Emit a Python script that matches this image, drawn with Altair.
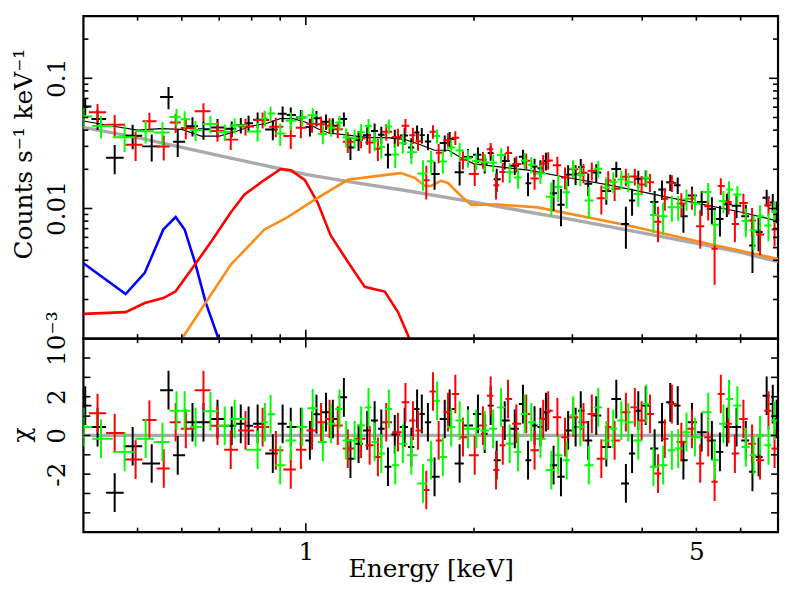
import altair as alt
import numpy as np
import pandas as pd

# ---------------- data ----------------
# black data set
E_k = [0.403,0.424,0.455,0.49,0.53,0.568,0.59,0.627,0.656,0.695,0.737,0.765,0.79,0.82,0.873,0.909,0.94,0.98,1.017,1.045,
       1.087,1.118,1.17,1.202,1.243,1.288,1.328,1.365,1.403,1.443,1.503,1.545,1.582,1.613,1.654,1.70,1.773,1.809,1.885,1.951,
       2.033,2.09,2.142,2.196,2.27,2.366,2.447,2.499,2.567,2.63,2.69,2.776,2.862,2.948,3.04,3.105,3.202,3.31,3.45,3.595,
       3.74,3.836,3.936,4.058,4.21,4.34,4.49,4.63,4.74,4.91,5.11,5.33,5.51,5.67,5.9,6.13,6.3,6.46,6.68,6.85,6.96]
Y_k = [0.0607,0.0487,0.0245,0.0362,0.030,0.0718,0.0326,0.0429,0.0406,0.0418,0.0409,0.0436,0.0452,0.048,0.0404,0.0534,0.0522,0.050,0.0423,0.0494,
       0.0464,0.0432,0.0486,0.0294,0.0335,0.0365,0.0393,0.0369,0.0259,0.0348,0.0363,0.0294,0.0384,0.0366,0.0327,0.0184,0.0318,0.0342,0.019,0.0249,
       0.0259,0.0221,0.0267,0.0168,0.0232,0.0213,0.025,0.0156,0.021,0.0204,0.0232,0.0131,0.0107,0.0182,0.0183,0.0208,0.0155,0.0189,0.0136,0.0201,
       0.0076,0.0115,0.0169,0.0171,0.0112,0.014,0.0159,0.0151,0.0087,0.0126,0.0112,0.0099,0.0083,0.0108,0.0105,0.0087,0.0052,0.0066,0.0121,0.0111,0.0095]
D_k = [0.0089,0.0086,0.0062,0.0077,0.007,0.014,0.0077,0.0072,0.0068,0.0068,0.0057,0.006,0.0063,0.0066,0.007,0.0074,0.0074,0.007,0.0066,0.0067,
       0.0062,0.0061,0.0059,0.0058,0.0058,0.0056,0.0056,0.0056,0.0056,0.0055,0.0054,0.0052,0.005,0.005,0.0047,0.0045,0.0045,0.0045,0.004,0.0037,
       0.0035,0.0035,0.0034,0.0034,0.0033,0.0032,0.0032,0.0032,0.0031,0.0031,0.0036,0.0035,0.0034,0.0033,0.0032,0.0032,0.0031,0.003,0.0029,0.0028,
       0.0027,0.0027,0.0026,0.0025,0.0024,0.0024,0.0023,0.0022,0.0022,0.0021,0.0024,0.0023,0.0022,0.0022,0.0021,0.002,0.002,0.0019,0.0018,0.0018,0.0018]
C_k = [1.54,0.43,-2.96,-0.56,-1.45,2.34,-1.03,0.68,0.68,0.85,0.5,0.6,0.5,0.6,-0.94,0.6,0.43,0.43,-0.26,1.1,
       1.2,0.85,1.97,-1.2,-0.43,0.26,0.77,0.34,-1.62,0.05,0.43,-0.6,1.37,1.11,0.68,-2.14,0.85,1.37,-1.45,0.51,
       1.11,0.09,1.54,-1.28,0.77,0.34,1.62,-1.28,0.51,0.43,1.2,-1.54,-2.14,0.26,0.43,1.28,-0.26,1.03,-0.6,1.88,
       -2.48,-0.94,1.28,1.54,-0.68,0.68,1.71,1.54,-1.28,0.68,0.17,-0.26,-0.85,0.43,0.43,-0.26,-1.88,-1.11,2.05,1.62,0.85]

# red data set
E_r = [0.424,0.455,0.496,0.525,0.557,0.585,0.61,0.656,0.695,0.734,0.78,0.837,0.884,0.94,0.98,1.026,1.065,1.103,1.141,1.189,
       1.256,1.301,1.346,1.393,1.462,1.508,1.555,1.588,1.643,1.689,1.729,1.797,1.852,1.911,2.006,2.075,2.142,2.19,2.252,2.301,
       2.381,2.48,2.567,2.66,2.715,2.82,2.91,3.01,3.14,3.25,3.38,3.477,3.57,3.74,3.88,3.99,4.13,4.27,4.39,4.52,
       4.70,4.91,5.08,5.25,5.39,5.53,5.71,5.86,6.07,6.29,6.5,6.73,6.9]
Y_r = [0.0549,0.044,0.0309,0.0467,0.0299,0.0457,0.0415,0.0559,0.0394,0.0338,0.0426,0.0479,0.0425,0.036,0.0417,0.0447,0.0444,0.0432,0.0406,0.0326,
       0.0347,0.0321,0.0288,0.0388,0.0354,0.0432,0.0365,0.0328,0.0165,0.0389,0.0268,0.0334,0.035,0.0237,0.0184,0.0237,0.0285,0.0151,0.0191,0.0267,
       0.022,0.0233,0.017,0.0221,0.0234,0.0215,0.0173,0.020,0.0188,0.0195,0.012,0.0164,0.0142,0.0175,0.0176,0.0153,0.0159,0.0079,0.0119,0.0157,
       0.0109,0.0119,0.0073,0.0104,0.0049,0.0149,0.0112,0.0076,0.011,0.0081,0.0063,0.0106,0.0069]
D_r = [0.0086,0.0082,0.0077,0.0077,0.0065,0.0077,0.0074,0.0085,0.0068,0.0057,0.0062,0.0068,0.0072,0.0074,0.0071,0.0065,0.0064,0.0061,0.006,0.0059,
       0.0057,0.0056,0.0056,0.0056,0.0055,0.0054,0.0052,0.005,0.0048,0.0046,0.0045,0.0045,0.0042,0.0038,0.0035,0.0035,0.0034,0.0034,0.0033,0.0033,
       0.0032,0.0032,0.0031,0.0036,0.0036,0.0035,0.0033,0.0032,0.0032,0.0031,0.003,0.0029,0.0028,0.0027,0.0026,0.0025,0.0025,0.0024,0.0023,0.0023,
       0.0022,0.0021,0.0024,0.0023,0.0023,0.0022,0.0022,0.0021,0.002,0.002,0.0019,0.0018,0.0018]
C_r = [1.15,0.12,-1.25,0.8,-1.71,0.68,0.34,2.34,0.5,-0.74,0.26,0.43,-0.77,-1.76,-0.74,0.26,0.68,0.85,0.51,-0.68,
       -0.17,-0.51,-1.11,0.68,0.17,1.71,0.77,0.26,-2.82,2.27,-0.26,1.2,2.14,-0.09,-1.03,0.51,2.05,-1.79,-0.51,1.88,
       0.6,1.11,-0.77,0.85,1.28,0.94,-0.09,0.94,0.68,1.11,-1.2,0.43,-0.26,1.2,1.45,0.77,1.11,-1.97,-0.17,1.62,
       -0.34,0.34,-1.45,-0.09,-2.39,2.14,0.6,-0.94,0.85,-0.43,-1.28,1.28,-0.68]

# green data set
E_g = [0.40,0.43,0.474,0.517,0.554,0.587,0.607,0.635,0.675,0.716,0.746,0.82,0.845,0.865,0.90,0.94,0.985,1.029,1.073,1.11,
       1.149,1.181,1.223,1.256,1.295,1.328,1.365,1.408,1.446,1.492,1.545,1.621,1.676,1.718,1.759,1.821,1.885,1.951,2.019,2.09,
       2.164,2.236,2.317,2.398,2.464,2.533,2.63,2.75,2.83,2.93,3.01,3.10,3.21,3.337,3.45,3.55,3.67,3.777,3.936,4.07,
       4.19,4.36,4.52,4.64,4.80,4.97,5.25,5.39,5.59,5.72,5.92,6.13,6.33,6.50,6.73,6.89]
Y_g = [0.0508,0.043,0.0352,0.0392,0.0383,0.0504,0.0485,0.040,0.0445,0.0387,0.0434,0.0391,0.0493,0.0536,0.0376,0.0471,0.050,0.052,0.0374,0.0417,
       0.0455,0.0352,0.0347,0.0386,0.0431,0.0331,0.0297,0.0427,0.026,0.0317,0.0271,0.0186,0.0231,0.036,0.023,0.0294,0.0279,0.0243,0.0232,0.0227,
       0.0225,0.0257,0.019,0.0173,0.0234,0.0217,0.0186,0.0123,0.0146,0.0133,0.0203,0.0181,0.0115,0.0202,0.0145,0.016,0.0167,0.016,0.0129,0.0172,
       0.0089,0.0087,0.0102,0.0102,0.0118,0.0109,0.0134,0.0075,0.0114,0.014,0.0128,0.008,0.0068,0.0087,0.0074,0.0095]
D_g = [0.0089,0.0085,0.008,0.0077,0.0078,0.0077,0.0074,0.007,0.0068,0.0054,0.0058,0.0066,0.0067,0.0069,0.0074,0.0074,0.007,0.0068,0.0063,0.0061,
       0.006,0.0059,0.0058,0.0057,0.0056,0.0056,0.0056,0.0056,0.0055,0.0054,0.0052,0.0049,0.0046,0.0045,0.0045,0.0044,0.004,0.0037,0.0035,0.0035,
       0.0034,0.0033,0.0033,0.0032,0.0032,0.0031,0.0031,0.0035,0.0034,0.0033,0.0032,0.0032,0.0031,0.003,0.0029,0.0029,0.0028,0.0027,0.0026,0.0025,
       0.0024,0.0024,0.0023,0.0022,0.0022,0.0021,0.0023,0.0023,0.0022,0.0022,0.0021,0.002,0.002,0.0019,0.0018,0.0018]
C_g = [0.43,-0.17,-0.85,-0.17,-0.34,1.28,1.28,0.43,1.25,0.5,0.85,-0.74,0.68,1.1,-1.54,-0.26,0.43,1.4,-0.34,0.6,
       1.37,-0.26,-0.26,0.51,1.45,-0.34,-0.94,1.37,-1.54,-0.43,-1.03,-2.48,-1.28,1.79,-1.11,0.43,0.77,0.34,0.34,0.26,
       0.34,1.45,-0.43,-0.85,1.11,0.68,-0.17,-1.79,-1.03,-1.28,1.03,0.43,-1.54,1.45,-0.26,0.34,0.77,0.68,-0.26,1.62,
       -1.62,-1.54,-0.77,-0.68,0.17,-0.09,1.2,-1.28,0.6,1.88,1.54,-0.6,-1.03,0.0,-0.51,0.77]

# model components (counts s^-1 keV^-1)
E_pl = [0.40,0.50,0.60,0.70,0.80,0.90,1.00,1.20,1.50,2.00,2.50,3.00,4.00,5.00,6.00,7.00]
V_pl = [0.042,0.035,0.0295,0.0255,0.0225,0.0202,0.0183,0.0160,0.0138,0.0112,0.0094,0.0082,0.0065,0.0054,0.0046,0.0039]
E_blue = [0.40,0.476,0.515,0.556,0.585,0.607,0.633,0.662,0.695,0.72]
V_blue = [0.0038,0.0022,0.0032,0.0069,0.0086,0.0069,0.0039,0.0019,0.00105,0.0006]
E_red = [0.40,0.476,0.515,0.556,0.585,0.633,0.676,0.734,0.777,0.844,0.902,0.94,0.996,1.05,1.108,1.189,1.275,1.329,1.385,1.462,1.533,1.56]
V_red = [0.00155,0.0016,0.00188,0.00205,0.00231,0.0037,0.0055,0.0093,0.0128,0.0166,0.0201,0.0197,0.0166,0.0111,0.0062,0.0039,0.0025,0.0024,0.0023,0.0016,0.001,0.0007]
E_or = [0.58,0.602,0.659,0.734,0.844,0.928,1.038,1.189,1.346,1.48,1.567,1.634,1.675,1.745,1.797,1.895,1.976,2.21,2.60,3.78,5.32,7.0]
V_or = [0.0007,0.00102,0.00184,0.0037,0.0069,0.0086,0.0117,0.0166,0.0178,0.0187,0.0172,0.0149,0.0149,0.0163,0.0157,0.0125,0.0107,0.0107,0.0102,0.0074,0.0053,0.0041]
E_tot = [0.40,0.45,0.50,0.55,0.60,0.65,0.70,0.75,0.80,0.85,0.90,0.95,1.00,1.05,1.10,1.20,1.30,1.40,1.50,1.60,1.70,1.80,1.90,2.00,2.50,3.00,3.50,4.00,5.00,6.00,7.00]
V_tot = [0.047,0.043,0.040,0.041,0.0405,0.036,0.036,0.039,0.043,0.045,0.049,0.049,0.046,0.041,0.038,0.0364,0.035,0.035,0.034,0.031,0.028,0.028,0.0244,0.022,0.0197,0.017,0.0151,0.0134,0.011,0.0094,0.008]

# axis tick values and labels
X_MINOR = [0.5,0.6,0.7,0.8,0.9,2,3,4,5,6]
X_MAJOR = [1]
Y_MINOR = [0.002,0.003,0.004,0.005,0.006,0.007,0.008,0.009,0.02,0.03,0.04,0.05,0.06,0.07,0.08,0.09,0.2]
Y_MAJOR = [0.01,0.1]
Y_LABEL_VALUES = [0.1, 0.01, 0.001]
Y_LABEL_TEXT = ["0.1", "0.01", "10⁻³"]
CHI_TICKS = [-4,-3,-2,-1,0,1,2,3,4]
TITLE_TOP = "Counts s⁻¹ keV⁻¹"
TITLE_BOT = "χ"

# ---------------- build ----------------
W, HT, HB = 700, 325, 195
FONT = "DejaVu Serif"
FS = 25

xs = alt.Scale(type="log", domain=[0.4, 7.0])
ys = alt.Scale(type="log", domain=[0.001, 0.3])
cs = alt.Scale(domain=[-5, 5])

xaxis_bot = alt.Axis(values=[1, 5], labelExpr="datum.value < 2 ? '1' : '5'", title="Energy [keV]",
                     ticks=False, domain=False, grid=False, labelPadding=8, titlePadding=-8,
                     labelFlush=False, labelOverlap=False)
yaxis_top = alt.Axis(values=[0.1], labels=False, title=None, ticks=False, domain=False, grid=False,
                     minExtent=37, maxExtent=37)
yaxis_bot = alt.Axis(values=[-2, 0, 2],
                     labelExpr="datum.value < 0 ? '-2' : (datum.value > 0 ? '2' : '0')",
                     title=None, ticks=False, domain=False, grid=False,
                     labelAngle=270, labelAlign="center", labelBaseline="bottom",
                     labelPadding=14, minExtent=37, maxExtent=37,
                     labelFlush=False, labelOverlap=False)


def spectrum(E, Y, D, C):
    E = np.array(E, dtype=float)
    mids = np.sqrt(E[:-1] * E[1:])
    lo = np.concatenate([[E[0] ** 2 / mids[0]], mids])
    hi = np.concatenate([mids, [E[-1] ** 2 / mids[-1]]])
    Y = np.array(Y); D = np.array(D); C = np.array(C)
    return pd.DataFrame({"E": E, "lo": lo, "hi": hi, "y": Y, "ylo": Y - D, "yhi": Y + D,
                         "chi": C, "clo": C - 1, "chi_hi": C + 1})


sets = [(spectrum(E_k, Y_k, D_k, C_k), "#000000"),
        (spectrum(E_r, Y_r, D_r, C_r), "#ff0000"),
        (spectrum(E_g, Y_g, D_g, C_g), "#00ff00")]


def xticks(vals, length, height, xaxis):
    df = pd.DataFrame({"t": vals})
    out = []
    for y0, y1 in [(0, length), (height, height - length)]:
        out.append(alt.Chart(df).mark_rule(color="black", strokeWidth=1.6).encode(
            x=alt.X("t:Q", scale=xs, axis=xaxis), y=alt.value(y0), y2=alt.value(y1)))
    return out


def yticks(vals, length, yscale, yaxis):
    df = pd.DataFrame({"t": vals})
    out = []
    for x0, x1 in [(0, length), (W, W - length)]:
        out.append(alt.Chart(df).mark_rule(color="black", strokeWidth=1.6).encode(
            y=alt.Y("t:Q", scale=yscale, axis=yaxis), x=alt.value(x0), x2=alt.value(x1)))
    return out


def side_title(text, xpix, ypix):
    return alt.Chart(pd.DataFrame({"t": [text]})).mark_text(
        angle=270, align="center", baseline="alphabetic", font=FONT, fontSize=FS, color="black"
    ).encode(x=alt.value(xpix), y=alt.value(ypix), text="t:N")


# ----- top panel -----
top_layers = []
for E_c, V_c, col, sw in [(E_pl, V_pl, "#aaaaaa", 3.4), (E_blue, V_blue, "#0000ff", 2.6),
                          (E_red, V_red, "#ff0000", 2.6), (E_or, V_or, "#ff8c1a", 2.6)]:
    dfc = pd.DataFrame({"E": E_c, "v": V_c})
    top_layers.append(alt.Chart(dfc).mark_line(color=col, strokeWidth=sw, clip=True).encode(
        x=alt.X("E:Q", scale=xs, axis=None), y=alt.Y("v:Q", scale=ys, axis=yaxis_top)))
top_layers.append(alt.Chart(pd.DataFrame({"E": E_tot, "v": V_tot})).mark_line(
    color="black", strokeWidth=1.2, clip=True).encode(
    x=alt.X("E:Q", scale=xs, axis=None), y=alt.Y("v:Q", scale=ys, axis=yaxis_top)))

for df, col in sets:
    top_layers.append(alt.Chart(df).mark_rule(color=col, strokeWidth=2, clip=True).encode(
        x=alt.X("lo:Q", scale=xs, axis=None), x2="hi:Q", y=alt.Y("y:Q", scale=ys, axis=yaxis_top)))
    top_layers.append(alt.Chart(df).mark_rule(color=col, strokeWidth=2, clip=True).encode(
        x=alt.X("E:Q", scale=xs, axis=None), y=alt.Y("ylo:Q", scale=ys, axis=yaxis_top), y2="yhi:Q"))

top_layers += xticks(X_MINOR, 4.5, HT, None) + xticks(X_MAJOR, 9, HT, None)
top_layers += yticks(Y_MINOR, 5, ys, yaxis_top) + yticks(Y_MAJOR, 9, ys, yaxis_top)

# y tick labels of the upper panel (rotated text)
top_layers.append(alt.Chart(pd.DataFrame({"v": Y_LABEL_VALUES, "t": Y_LABEL_TEXT})).mark_text(
    angle=270, align="center", baseline="bottom", font=FONT, fontSize=FS, color="black").encode(
    y=alt.Y("v:Q", scale=ys, axis=yaxis_top), x=alt.value(-14), text="t:N"))
top_layers.append(side_title(TITLE_TOP, -52, 139))

top = alt.layer(*top_layers).properties(width=W, height=HT)

# ----- bottom panel -----
bot_layers = [alt.Chart(pd.DataFrame({"z": [0]})).mark_rule(color="#aaaaaa", strokeWidth=3.4).encode(
    y=alt.Y("z:Q", scale=cs, axis=yaxis_bot), x=alt.value(0), x2=alt.value(W))]
for df, col in sets:
    bot_layers.append(alt.Chart(df).mark_rule(color=col, strokeWidth=2, clip=True).encode(
        x=alt.X("lo:Q", scale=xs, axis=xaxis_bot), x2="hi:Q", y=alt.Y("chi:Q", scale=cs, axis=yaxis_bot)))
    bot_layers.append(alt.Chart(df).mark_rule(color=col, strokeWidth=2, clip=True).encode(
        x=alt.X("E:Q", scale=xs, axis=xaxis_bot), y=alt.Y("clo:Q", scale=cs, axis=yaxis_bot), y2="chi_hi:Q"))

bot_layers += xticks(X_MINOR, 4.5, HB, xaxis_bot) + xticks(X_MAJOR, 9, HB, xaxis_bot)
bot_layers += yticks(CHI_TICKS, 7, cs, yaxis_bot)
bot_layers.append(side_title(TITLE_BOT, -54, 97))

bottom = alt.layer(*bot_layers).properties(width=W, height=HB)

chart = alt.vconcat(top, bottom, spacing=0, bounds="flush").properties(
    padding={"left": 0, "top": 4, "right": 0, "bottom": 0}
).configure_view(stroke="black", strokeWidth=2.2).configure_axis(
    labelFont=FONT, titleFont=FONT, labelFontSize=FS, titleFontSize=FS,
    labelColor="black", titleColor="black", titleFontWeight="normal"
)

chart.save("out.html", embed_options={"renderer": "svg", "actions": False})
